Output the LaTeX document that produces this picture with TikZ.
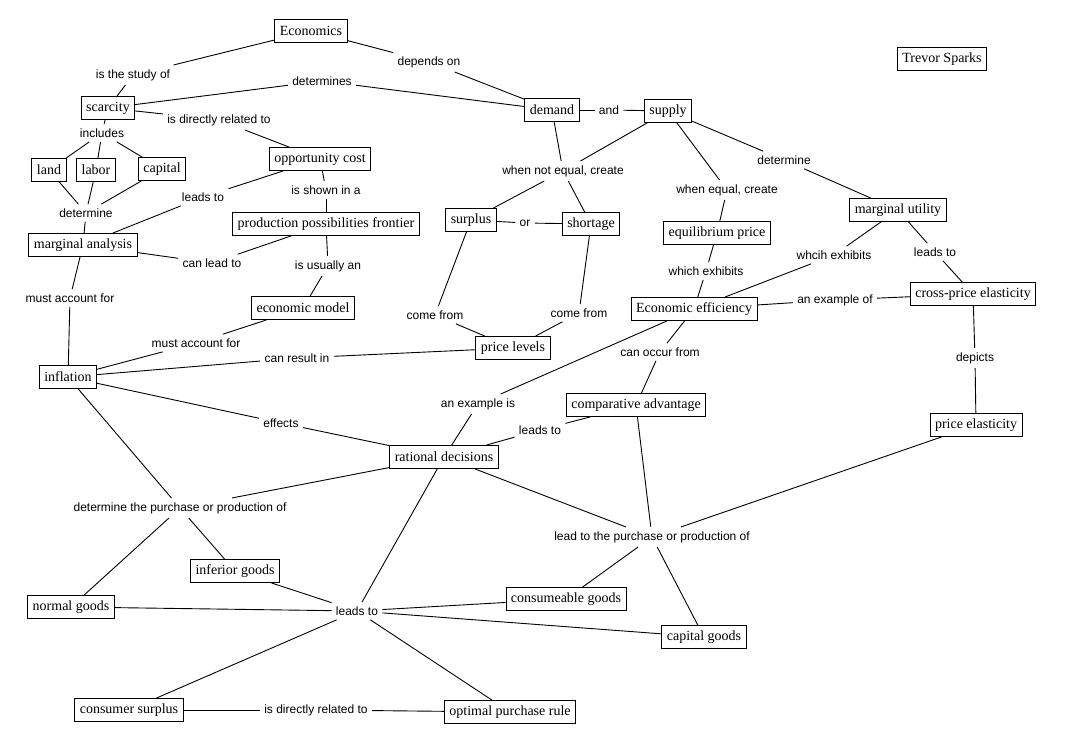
\documentclass[tikz,border=0pt]{standalone}
\usepackage{fontspec}
\setmainfont{Liberation Serif}
\newfontfamily\lblfont{Liberation Sans}
\usetikzlibrary{positioning}

\begin{document}
\begin{tikzpicture}[x=1pt, y=-1pt, line width=0.9pt,
    concept/.style={draw, fill=white, inner xsep=5pt, inner ysep=2pt,
      minimum height=23pt, font=\fontsize{14}{16}\selectfont},
    lbl/.style={inner sep=4pt, font=\lblfont\fontsize{12}{14}\selectfont}]
    \useasboundingbox (0,0) rectangle (1065,746);

    % Concepts
    \node[concept] (econ) at (311,31) {Economics};
    \node[concept] (trevor) at (942,59) {Trevor Sparks};
    \node[concept] (scarcity) at (108,108) {scarcity};
    \node[concept] (demand) at (552,110) {demand};
    \node[concept] (supply) at (668,111) {supply};
    \node[concept] (oppcost) at (320,159) {opportunity cost};
    \node[concept] (land) at (49,170) {land};
    \node[concept] (labor) at (96,170) {labor};
    \node[concept] (capital) at (162,169) {capital};
    \node[concept] (margutil) at (898,210) {marginal utility};
    \node[concept] (surplus) at (471,220) {surplus};
    \node[concept] (shortage) at (591,224) {shortage};
    \node[concept] (ppf) at (326,224) {production possibilities frontier};
    \node[concept] (eqprice) at (717,233) {equilibrium price};
    \node[concept] (margan) at (83,245) {marginal analysis};
    \node[concept] (ecomodel) at (303,308) {economic model};
    \node[concept] (effic) at (694,309) {Economic efficiency};
    \node[concept] (crossel) at (973,294) {cross-price elasticity};
    \node[concept] (pricelev) at (513,348) {price levels};
    \node[concept] (inflation) at (68,377) {inflation};
    \node[concept] (compadv) at (636,405) {comparative advantage};
    \node[concept] (priceel) at (976,425) {price elasticity};
    \node[concept] (ratdec) at (444,457) {rational decisions};
    \node[concept] (inferior) at (235,571) {inferior goods};
    \node[concept] (normal) at (71,607) {normal goods};
    \node[concept] (consum) at (566,599) {consumeable goods};
    \node[concept] (capgoods) at (704,637) {capital goods};
    \node[concept] (conssur) at (129,710) {consumer surplus};
    \node[concept] (optrule) at (510,712) {optimal purchase rule};

    % Linking phrases
    \node[lbl] (l-study) at (133,75) {is the study of};
    \node[lbl] (l-depends) at (429,62) {depends on};
    \node[lbl] (l-determines) at (322,81) {determines};
    \node[lbl] (l-related) at (219,120) {is directly related to};
    \node[lbl] (l-includes) at (102,133) {includes};
    \node[lbl] (l-and) at (609,110) {and};
    \node[lbl] (l-notequal) at (563,171) {when not equal, create};
    \node[lbl] (l-detmu) at (784,160) {determine};
    \node[lbl] (l-equal) at (727,190) {when equal, create};
    \node[lbl] (l-shown) at (326,190) {is shown in a};
    \node[lbl] (l-leadsma) at (203,197) {leads to};
    \node[lbl] (l-detma) at (86,213) {determine};
    \node[lbl] (l-or) at (525,223) {or};
    \node[lbl] (l-canlead) at (212,263) {can lead to};
    \node[lbl] (l-usually) at (328,266) {is usually an};
    \node[lbl] (l-whcih) at (834,255) {whcih exhibits};
    \node[lbl] (l-leadscp) at (935,252) {leads to};
    \node[lbl] (l-which) at (706,271) {which exhibits};
    \node[lbl] (l-mustma) at (70,298) {must account for};
    \node[lbl] (l-exampleof) at (835,300) {an example of};
    \node[lbl] (l-comeA) at (435,315) {come from};
    \node[lbl] (l-comeB) at (579,313) {come from};
    \node[lbl] (l-mustmod) at (196,343) {must account for};
    \node[lbl] (l-result) at (297,358) {can result in};
    \node[lbl] (l-occur) at (660,352) {can occur from};
    \node[lbl] (l-depicts) at (975,358) {depicts};
    \node[lbl] (l-exampleis) at (478,404) {an example is};
    \node[lbl] (l-effects) at (281,423) {effects};
    \node[lbl] (l-leadsrd) at (540,430) {leads to};
    \node[lbl] (l-detpurch) at (180,508) {determine the purchase or production of};
    \node[lbl] (l-leadpurch) at (652,537) {lead to the purchase or production of};
    \node[lbl] (l-leadsgoods) at (357,611) {leads to};
    \node[lbl] (l-relbot) at (316,710) {is directly related to};

    % Links
    \foreach \a/\b in {econ/l-study, l-study/scarcity, econ/l-depends, l-depends/demand,
        scarcity/l-determines, l-determines/demand, scarcity/l-related, l-related/oppcost,
        scarcity/l-includes, l-includes/land, l-includes/labor, l-includes/capital,
        land/l-detma, labor/l-detma, capital/l-detma, l-detma/margan,
        oppcost/l-leadsma, l-leadsma/margan, oppcost/l-shown, l-shown/ppf,
        ppf/l-canlead, l-canlead/margan, ppf/l-usually, l-usually/ecomodel,
        margan/l-mustma, l-mustma/inflation, ecomodel/l-mustmod, l-mustmod/inflation,
        inflation/l-result, l-result/pricelev, demand/l-and, l-and/supply,
        demand/l-notequal, supply/l-notequal, l-notequal/surplus, l-notequal/shortage,
        surplus/l-or, l-or/shortage, surplus/l-comeA, l-comeA/pricelev,
        shortage/l-comeB, l-comeB/pricelev, supply/l-equal, l-equal/eqprice,
        supply/l-detmu, l-detmu/margutil, eqprice/l-which, l-which/effic,
        margutil/l-whcih, l-whcih/effic, margutil/l-leadscp, l-leadscp/crossel,
        crossel/l-exampleof, l-exampleof/effic, crossel/l-depicts, l-depicts/priceel,
        effic/l-occur, l-occur/compadv, effic/l-exampleis, l-exampleis/ratdec,
        compadv/l-leadsrd, l-leadsrd/ratdec, inflation/l-effects, l-effects/ratdec,
        inflation/l-detpurch, ratdec/l-detpurch, l-detpurch/normal, l-detpurch/inferior,
        ratdec/l-leadpurch, compadv/l-leadpurch, priceel/l-leadpurch,
        l-leadpurch/consum, l-leadpurch/capgoods,
        ratdec/l-leadsgoods, inferior/l-leadsgoods, normal/l-leadsgoods,
        l-leadsgoods/consum, l-leadsgoods/capgoods, l-leadsgoods/conssur, l-leadsgoods/optrule,
        conssur/l-relbot, l-relbot/optrule} {
      \draw (\a) -- (\b);
    }
  \end{tikzpicture}
\end{document}
